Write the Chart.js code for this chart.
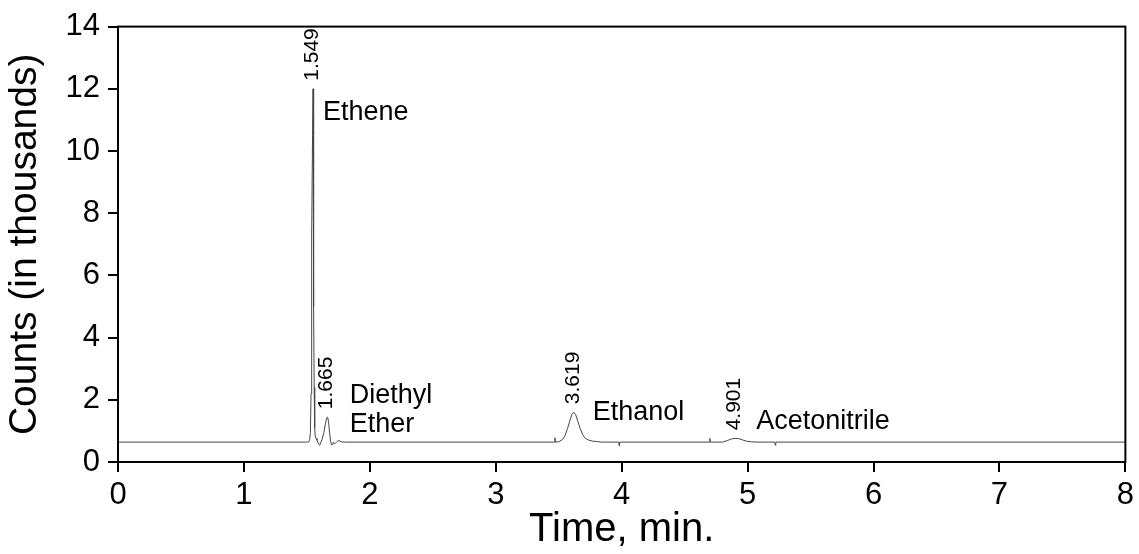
<!DOCTYPE html>
<html>
<head>
<meta charset="utf-8">
<title>GC chromatogram</title>
<script src="https://cdn.jsdelivr.net/npm/chart.js@4.4.1/dist/chart.umd.min.js"></script>
<style>
  html, body { margin: 0; padding: 0; background: #fff; }
  #wrap { width: 1139px; height: 554px; }
</style>
</head>
<body>
<div id="wrap"><canvas id="chromChart" width="1139" height="554"></canvas></div>
<script>
// detector trace: retention time (min) and counts (thousands)
const times = [
    0, 1.50, 1.515, 1.522, 1.528, 1.533, 1.536, 1.540, 1.545, 1.549,
    1.552, 1.555, 1.558, 1.562, 1.567, 1.573, 1.580, 1.588, 1.596, 1.603,
    1.610, 1.620, 1.635, 1.648, 1.658, 1.665, 1.672, 1.680, 1.688, 1.695,
    1.702, 1.710, 1.718, 1.726, 1.735, 1.745, 1.760, 1.775, 1.80,
    3.466, 3.470, 3.474, 3.50, 3.53, 3.55, 3.57, 3.59, 3.605, 3.619,
    3.635, 3.65, 3.67, 3.69, 3.71, 3.74, 3.77, 3.80, 3.84,
    3.976, 3.980, 3.984,
    4.696, 4.700, 4.704,
    4.80, 4.84, 4.87, 4.901, 4.93, 4.96, 4.99, 5.03, 5.08,
    5.216, 5.220, 5.224,
    8
];
const counts = [
    0.64, 0.64, 0.65, 0.72, 0.95, 2.2, 4.9, 7.3, 10.5, 12.0,
    9.0, 5.0, 2.4, 1.1, 0.80, 0.76, 0.70, 0.62, 0.56, 0.54,
    0.62, 0.72, 0.95, 1.25, 1.42, 1.44, 1.30, 0.95, 0.68, 0.55,
    0.56, 0.63, 0.58, 0.60, 0.64, 0.68, 0.68, 0.65, 0.64,
    0.64, 0.78, 0.64, 0.65, 0.72, 0.85, 1.08, 1.35, 1.53, 1.60,
    1.52, 1.33, 1.08, 0.88, 0.76, 0.70, 0.67, 0.66, 0.64,
    0.64, 0.52, 0.64,
    0.64, 0.76, 0.64,
    0.64, 0.69, 0.74, 0.76, 0.75, 0.71, 0.67, 0.65, 0.64,
    0.64, 0.54, 0.64,
    0.64
];

// identified peaks
const peakTimes = [1.549, 1.665, 3.619, 4.901];
const peakNames = [['Ethene'], ['Diethyl', 'Ether'], ['Ethanol'], ['Acetonitrile']];

const xTicks = [0, 1, 2, 3, 4, 5, 6, 7, 8];
const yTicks = [0, 2, 4, 6, 8, 10, 12, 14];

const FONT = '"Liberation Sans", Arial, Helvetica, sans-serif';

const trace = times.map((t, i) => ({ x: t, y: counts[i] }));

// highest trace point near a retention time
function peakHeight(t) {
    let best = 0;
    times.forEach((tt, i) => {
        if (Math.abs(tt - t) < 0.02 && counts[i] > best) best = counts[i];
    });
    return best;
}

// name label offsets from the apex, px: [dx, baseline dy]
const nameOffsets = [[10, 31], [22, -14], [19, 8], [21, -9]];

const peakLabels = {
    id: 'peakLabels',
    afterDatasetsDraw(chart) {
        const ctx = chart.ctx;
        const xs = chart.scales.x, ys = chart.scales.y;
        ctx.save();
        ctx.fillStyle = '#000';
        peakTimes.forEach((t, i) => {
            const px = xs.getPixelForValue(t);
            const py = ys.getPixelForValue(peakHeight(t));
            // retention time, rotated above the apex
            ctx.save();
            ctx.translate(px - 1, py - 8);
            ctx.rotate(-Math.PI / 2);
            ctx.font = '21px ' + FONT;
            ctx.textAlign = 'left';
            ctx.textBaseline = 'middle';
            ctx.fillText(t.toFixed(3), 0, 0);
            ctx.restore();
            // compound name
            ctx.font = '27px ' + FONT;
            ctx.textAlign = 'left';
            ctx.textBaseline = 'alphabetic';
            const [dx, dy] = nameOffsets[i];
            peakNames[i].forEach((line, j) => {
                ctx.fillText(line, px + dx, py + dy + j * 29);
            });
        });
        ctx.restore();
    }
};

const frameBox = {
    id: 'frameBox',
    afterDraw(chart) {
        const a = chart.chartArea;
        const ctx = chart.ctx;
        ctx.save();
        ctx.strokeStyle = '#000';
        ctx.lineWidth = 2;
        ctx.strokeRect(a.left, a.top, a.right - a.left, a.bottom - a.top);
        ctx.restore();
    }
};

const axisGrid = {
    drawOnChartArea: false,
    drawTicks: true,
    tickLength: 10,
    color: '#000',
    tickColor: '#000',
    lineWidth: 2
};

const config = {
    type: 'line',
    data: {
        datasets: [{
            label: 'Signal',
            data: trace,
            borderColor: 'rgb(70, 70, 70)',
            borderWidth: 1,
            pointRadius: 0,
            tension: 0,
            fill: false
        }]
    },
    options: {
        responsive: false,
        animation: false,
        parsing: false,
        layout: { padding: { top: 22, right: 11, left: 0, bottom: 0 } },
        plugins: {
            legend: { display: false },
            tooltip: { enabled: false }
        },
        scales: {
            x: {
                type: 'linear',
                min: 0,
                max: 8,
                afterFit: (scale) => { scale.height = 92; },
                afterBuildTicks: (scale) => { scale.ticks = xTicks.map(v => ({ value: v })); },
                grid: axisGrid,
                border: { display: true, color: '#000', width: 2 },
                ticks: {
                    color: '#000',
                    padding: 5,
                    maxRotation: 0,
                    font: { family: FONT, size: 31 }
                },
                title: {
                    display: true,
                    text: 'Time, min.',
                    color: '#000',
                    padding: { top: 0, bottom: 0 },
                    font: { family: FONT, size: 40 }
                }
            },
            y: {
                type: 'linear',
                min: 0,
                max: 14,
                afterFit: (scale) => { scale.width = 118; },
                afterBuildTicks: (scale) => { scale.ticks = yTicks.map(v => ({ value: v })); },
                grid: axisGrid,
                border: { display: true, color: '#000', width: 2 },
                ticks: {
                    color: '#000',
                    padding: 8,
                    font: { family: FONT, size: 31 }
                },
                title: {
                    display: true,
                    text: 'Counts (in thousands)',
                    color: '#000',
                    padding: { top: 2, bottom: 0 },
                    font: { family: FONT, size: 39 }
                }
            }
        }
    },
    plugins: [peakLabels, frameBox]
};

const chromChart = new Chart(document.getElementById('chromChart'), config);
</script>
</body>
</html>
